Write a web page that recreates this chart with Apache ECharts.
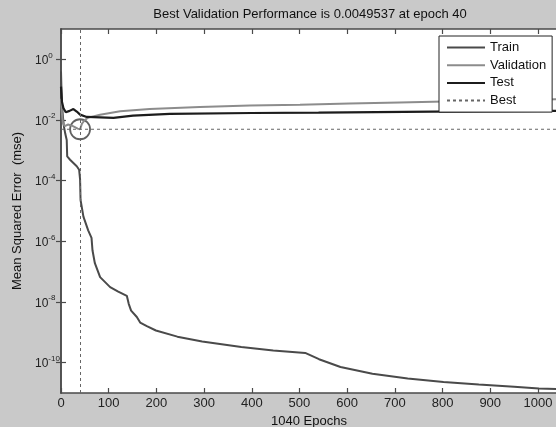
<!DOCTYPE html>
<html><head><meta charset="utf-8">
<script src="https://cdn.jsdelivr.net/npm/echarts@6/dist/echarts.min.js"></script>
<style>html,body{margin:0;padding:0;background:#c9c9c9}#c{width:556px;height:427px}</style>
</head><body><div id="c"></div>
<script>
const titleText = 'Best Validation Performance is 0.0049537 at epoch 40';
const xAxisName = '1040 Epochs';
const yAxisName = 'Mean Squared Error  (mse)';
const yTickValues = [1, 1e-2, 1e-4, 1e-6, 1e-8, 1e-10];
const bestEpoch = 40;
const bestValue = 0.0049537;
const seriesNames = ['Train', 'Validation', 'Test', 'Best'];

const trainEpochs = [0, 1, 2, 4, 6, 9, 12, 13, 19, 33, 38, 40, 41, 47, 57, 64, 66, 71, 82, 103, 120, 138, 142, 147, 159, 166, 180, 199, 244, 296, 378, 445, 512, 516, 541, 586, 653, 727, 802, 876, 950, 1002, 1040];
const trainMse = [0.4, 0.1, 3.2e-2, 1.3e-2, 6.3e-3, 3.5e-3, 2.2e-3, 6.3e-4, 4.9e-4, 3.0e-4, 2.3e-4, 1.1e-4, 2.3e-5, 6.5e-6, 2.3e-6, 1.3e-6, 5.1e-7, 1.9e-7, 6.6e-8, 3.1e-8, 2.2e-8, 1.6e-8, 8.7e-9, 5.2e-9, 3.2e-9, 2.1e-9, 1.6e-9, 1.15e-9, 7.2e-10, 5.0e-10, 3.3e-10, 2.5e-10, 2.1e-10, 2.0e-10, 1.3e-10, 7.2e-11, 4.3e-11, 3.0e-11, 2.3e-11, 1.9e-11, 1.6e-11, 1.4e-11, 1.35e-11];

const valEpochs = [0, 2, 4, 8, 15, 25, 35, 40, 44, 50, 57, 82, 124, 186, 291, 396, 501, 605, 710, 780, 900, 1040];
const valMse = [5e-2, 1.6e-2, 7.9e-3, 6.3e-3, 7.1e-3, 6.3e-3, 5.2e-3, 4.9537e-3, 7.6e-3, 1.0e-2, 1.2e-2, 1.5e-2, 1.95e-2, 2.3e-2, 2.7e-2, 3.0e-2, 3.2e-2, 3.5e-2, 3.8e-2, 4.0e-2, 4.4e-2, 4.8e-2];

const testEpochs = [0, 2, 5, 10, 18, 26, 33, 40, 54, 110, 151, 228, 400, 540, 780, 1040];
const testMse = [0.126, 4e-2, 2.5e-2, 1.8e-2, 2.0e-2, 2.3e-2, 1.9e-2, 1.5e-2, 1.26e-2, 1.17e-2, 1.4e-2, 1.6e-2, 1.7e-2, 1.74e-2, 1.9e-2, 2.0e-2];

const pairs = (xs, ys) => xs.map((x, i) => [x, ys[i]]);
const FONT = 'Liberation Sans, Arial, sans-serif';
const axisColor = '#4a4a4a';

const chart = echarts.init(document.getElementById('c'), null, {renderer: 'canvas'});

const xBase = {
  type: 'value', min: 0, max: 1040, interval: 100,
  axisLine: {show: true, lineStyle: {color: axisColor, width: 1.5}},
  axisTick: {show: true, inside: true, length: 5, lineStyle: {color: axisColor, width: 1.2}},
  splitLine: {show: false}
};
const yBase = {
  type: 'log', logBase: 10, min: 1e-11, max: 10,
  axisLine: {show: true, lineStyle: {color: axisColor, width: 1.5}},
  axisTick: {show: true, inside: true, length: 5, customValues: yTickValues, lineStyle: {color: axisColor, width: 1.2}},
  splitLine: {show: false}, minorTick: {show: false}
};

chart.setOption({
  animation: false,
  backgroundColor: '#c9c9c9',
  textStyle: {fontFamily: FONT},
  title: {
    text: titleText, left: 305, top: 3, textAlign: 'center',
    textStyle: {fontSize: 13, fontWeight: 'normal', color: '#111', fontFamily: FONT}
  },
  grid: {left: 61, top: 29, right: -1, bottom: 34, show: true, backgroundColor: '#fff', borderWidth: 0,
         containLabel: false, outerBoundsMode: 'none'},
  legend: {
    data: seriesNames, orient: 'vertical', left: 439, top: 36,
    itemWidth: 38, itemHeight: 14, itemGap: 4.7, padding: [5, 6, 5, 7],
    backgroundColor: '#fff', borderColor: '#222', borderWidth: 1, borderRadius: 0,
    itemStyle: {color: 'rgba(0,0,0,0)', borderColor: 'rgba(0,0,0,0)', borderWidth: 0, opacity: 0},
    textStyle: {fontSize: 13, color: '#111', fontFamily: FONT}
  },
  xAxis: [
    Object.assign({}, xBase, {
      position: 'bottom',
      name: xAxisName, nameLocation: 'middle', nameGap: 18,
      nameTextStyle: {fontSize: 13, color: '#111', fontFamily: FONT},
      axisLabel: {show: true, margin: 4, fontSize: 13, color: '#222', fontFamily: FONT, showMaxLabel: false,
                  formatter: v => String(v)}
    }),
    Object.assign({}, xBase, {position: 'top', axisLabel: {show: false}})
  ],
  yAxis: [
    Object.assign({}, yBase, {
      position: 'left',
      name: yAxisName, nameLocation: 'middle', nameGap: 36,
      nameTextStyle: {fontSize: 13, color: '#111', fontFamily: FONT},
      axisLabel: {
        show: true, customValues: yTickValues, margin: 26, align: 'left',
        formatter: v => '{b|10}{e|' + Math.round(Math.log10(v)) + '}',
        rich: {
          b: {fontSize: 12, color: '#222', fontFamily: FONT, lineHeight: 18, verticalAlign: 'middle', padding: [3, 0, 0, 0]},
          e: {fontSize: 8, color: '#222', fontFamily: FONT, lineHeight: 10, verticalAlign: 'top', padding: [1, 0, 0, 0]}
        }
      }
    }),
    Object.assign({}, yBase, {position: 'right', axisLabel: {show: false}})
  ],
  series: [
    {name: 'Train', type: 'line', symbol: 'none', data: pairs(trainEpochs, trainMse),
     lineStyle: {color: '#4a4a4a', width: 2}, itemStyle: {color: '#4a4a4a'}},
    {name: 'Validation', type: 'line', symbol: 'none', data: pairs(valEpochs, valMse),
     lineStyle: {color: '#8c8c8c', width: 2}, itemStyle: {color: '#8c8c8c'}},
    {name: 'Test', type: 'line', symbol: 'none', data: pairs(testEpochs, testMse),
     lineStyle: {color: '#1c1c1c', width: 2.2}, itemStyle: {color: '#1c1c1c'}},
    {name: 'Best', type: 'line', symbol: 'none', data: [[0, bestValue], [1040, bestValue]],
     lineStyle: {color: '#666', width: 1, type: [3, 3]}, itemStyle: {color: '#666'},
     markLine: {silent: true, symbol: 'none', label: {show: false},
       lineStyle: {color: '#666', width: 1, type: [3, 3]}, data: [{xAxis: bestEpoch}]}},
    {name: 'BestPoint', type: 'scatter', symbol: 'circle', symbolSize: 20,
     data: [[bestEpoch, bestValue]],
     itemStyle: {color: 'rgba(0,0,0,0)', borderColor: '#3a3a3a', borderWidth: 1.8}}
  ]
});
</script></body></html>
